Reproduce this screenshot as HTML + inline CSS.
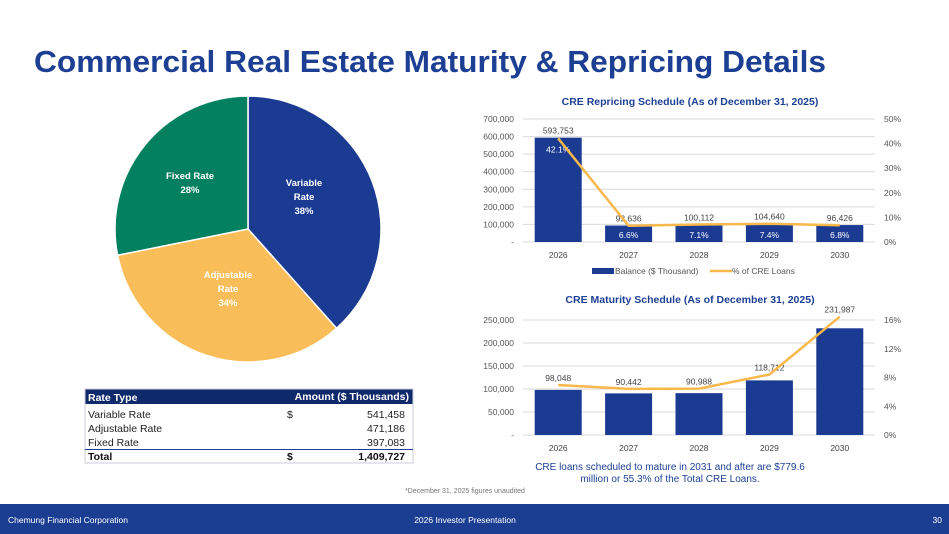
<!DOCTYPE html>
<html><head><meta charset="utf-8"><style>
html,body{margin:0;padding:0;background:#fff;width:949px;height:534px;overflow:hidden}
svg{display:block;font-family:"Liberation Sans",sans-serif}
</style></head><body>
<svg id="s" width="949" height="534" viewBox="0 0 949 534" xmlns="http://www.w3.org/2000/svg">
<text x="34" y="72" font-size="31" font-weight="bold" fill="#1c3f94" textLength="792" lengthAdjust="spacingAndGlyphs">Commercial Real Estate Maturity &amp; Repricing Details</text>
<g id="pie"></g>
<g>
<rect x="85" y="389" width="328" height="15" fill="#0f2a6b"/>
<text x="88" y="401" font-size="10.5" font-weight="bold" fill="#fff">Rate Type</text>
<text x="409" y="400" font-size="10.5" font-weight="bold" fill="#fff" text-anchor="end">Amount  ($ Thousands)</text>
<rect x="85" y="389" width="328" height="74" fill="none" stroke="#c8cdd8" stroke-width="1"/>
<g font-size="10.5" fill="#222">
<text x="88" y="418">Variable Rate</text><text x="287" y="418">$</text><text x="405" y="418" text-anchor="end">541,458</text>
<text x="88" y="432">Adjustable Rate</text><text x="405" y="432" text-anchor="end">471,186</text>
<text x="88" y="446">Fixed Rate</text><text x="405" y="446" text-anchor="end">397,083</text>
</g>
<line x1="85" y1="449.5" x2="413" y2="449.5" stroke="#1c3f94" stroke-width="1"/>
<g font-size="10.5" font-weight="bold" fill="#111">
<text x="88" y="460">Total</text><text x="287" y="460">$</text><text x="405" y="460" text-anchor="end">1,409,727</text>
</g>
</g>
<g id="c1"></g>
<g id="c2"></g>
<text x="670" y="470" font-size="10" fill="#1c3f94" text-anchor="middle">CRE loans scheduled to mature in 2031 and after are $779.6</text>
<text x="670" y="482" font-size="10" fill="#1c3f94" text-anchor="middle">million or 55.3% of the Total CRE Loans.</text>
<text x="465" y="493" font-size="7" fill="#777" text-anchor="middle">*December 31, 2025 figures unaudited</text>
<rect x="0" y="504" width="949" height="30" fill="#1b3d92"/>
<text x="8" y="523" font-size="8.5" fill="#fff">Chemung Financial Corporation</text>
<text x="465" y="523" font-size="8.5" fill="#fff" text-anchor="middle">2026 Investor Presentation</text>
<text x="942" y="523" font-size="8.5" fill="#fff" text-anchor="end">30</text>
</svg>
<script>
const NS="http://www.w3.org/2000/svg";
const pieLabels=["Variable Rate","Adjustable Rate","Fixed Rate"];
const pieValues=[541458,471186,397083];
const piePctLabels=["38%","34%","28%"];
const pieColors=["#1b3a92","#f9bd59","#028060"];
const years=["2026","2027","2028","2029","2030"];
const repBalance=[593753,93636,100112,104640,96426];
const repPct=[42.1,6.6,7.1,7.4,6.8];
const repTicks=[0,100000,200000,300000,400000,500000,600000,700000];
const repPctTicks=[0,10,20,30,40,50];
const matBalance=[98048,90442,90988,118712,231987];
const matPct=[6.96,6.42,6.45,8.42,16.46];
const matTicks=[0,50000,100000,150000,200000,250000];
const matPctTicks=[0,4,8,12,16];
function mk(p,t,a,txt){const e=document.createElementNS(NS,t);for(const k in a)e.setAttribute(k,a[k]);if(txt!==undefined)e.textContent=txt;p.appendChild(e);return e;}
const fmt=v=>v===0?"-":v.toLocaleString("en-US");
(function(){
const g=document.getElementById("pie");const cx=248,cy=229,r=133;
const tot=pieValues.reduce((a,b)=>a+b,0);let a0=-Math.PI/2;
const lab=[[304,200],[228,292],[190,186]];
pieValues.forEach((v,i)=>{
const a1=a0+v/tot*2*Math.PI;
const x0=cx+r*Math.cos(a0),y0=cy+r*Math.sin(a0),x1=cx+r*Math.cos(a1),y1=cy+r*Math.sin(a1);
const p=mk(g,"path",{d:`M${cx},${cy}L${x0},${y0}A${r},${r} 0 ${a1-a0>Math.PI?1:0} 1 ${x1},${y1}Z`,fill:pieColors[i],stroke:"#fff","stroke-width":1.5});


const pct=piePctLabels[i];
const words=i===2?["Fixed Rate",pct]:[pieLabels[i].split(" ")[0],"Rate",pct];
const ly=lab[i][1]-(words.length-1)*7;
words.forEach((w,j)=>{const t=mk(g,"text",{x:lab[i][0],y:ly+j*14,"font-size":9.5,"font-weight":"bold",fill:"#fff","text-anchor":"middle"},w);

});
a0=a1;});
})();
function chart(gid,title,ty,bal,pct,ticks,pticks,y0,y1,pctFmt,barLab,pctLab,legend){
const g=document.getElementById(gid);
const L=523,R=875,bw=47;const maxV=ticks[ticks.length-1],maxP=pticks[pticks.length-1];
const ys=v=>y0-(v/maxV)*(y0-y1), yp=v=>y0-(v/maxP)*(y0-y1);
const xs=i=>L+(R-L)/years.length*(i+0.5);
const tt=mk(g,"text",{x:690,y:ty,"font-size":10.5,"font-weight":"bold",fill:"#1c3f94","text-anchor":"middle"},title);


ticks.forEach(v=>{const y=ys(v);mk(g,"line",{x1:L,x2:R,y1:y,y2:y,stroke:"#d9d9d9","stroke-width":1});
const t=mk(g,"text",{x:514,y:y+3,"font-size":8.5,fill:"#555","text-anchor":"end"},fmt(v));

});
pticks.forEach(v=>{const t=mk(g,"text",{x:884,y:yp(v)+3,"font-size":8.5,fill:"#555"},v+"%");

});
years.forEach((yr,i)=>{
const b=mk(g,"rect",{x:xs(i)-bw/2,y:ys(bal[i]),width:bw,height:y0-ys(bal[i]),fill:"#1b3a92"});


const t=mk(g,"text",{x:xs(i),y:y0+16,"font-size":8.5,fill:"#444","text-anchor":"middle"},yr);


const bl=mk(g,"text",{x:xs(i),y:Math.min(ys(bal[i]),yp(pct[i]))-4,"font-size":8.5,fill:"#444","text-anchor":"middle"},fmt(bal[i]));


if(pctLab){const pl=mk(g,"text",{x:xs(i),y:i===0?yp(pct[i])+14:y0-4,"font-size":8.5,fill:"#fff","text-anchor":"middle"},pct[i].toFixed(1)+"%");

}
});
const ln=mk(g,"polyline",{points:years.map((y,i)=>xs(i)+","+yp(pct[i])).join(" "),fill:"none",stroke:"#f9b84b","stroke-width":2.5,"stroke-linejoin":"round"});


if(legend){
mk(g,"rect",{x:592,y:268,width:22,height:6,fill:"#1b3a92"});
mk(g,"text",{x:615,y:274,"font-size":8.5,fill:"#555"},"Balance ($ Thousand)");
mk(g,"line",{x1:710,x2:732,y1:271,y2:271,stroke:"#f9b84b","stroke-width":2.5});
const lt=mk(g,"text",{x:732,y:274,"font-size":8.5,fill:"#555"},"% of CRE Loans");


}}
chart("c1","CRE Repricing Schedule (As of December 31, 2025)",105,repBalance,repPct,repTicks,repPctTicks,242,119,null,true,true,true);
chart("c2","CRE Maturity Schedule (As of December 31, 2025)",303,matBalance,matPct,matTicks,matPctTicks,435,320,null,true,false,false);
</script>
</body></html>
